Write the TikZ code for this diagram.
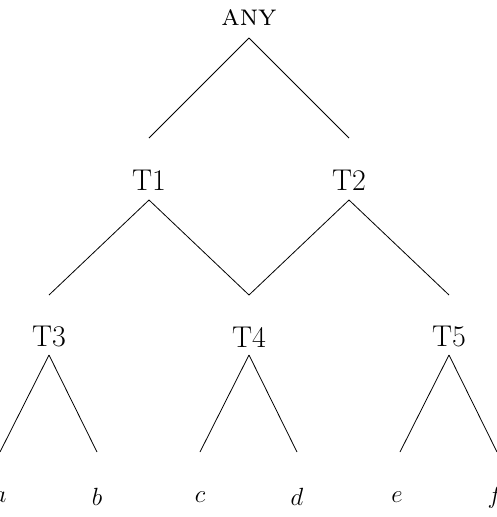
\documentclass[tikz,border=0pt]{standalone}
\usetikzlibrary{calc}
\begin{document}
\begin{tikzpicture}[x=1pt,y=-1pt,
  lbl/.style={inner sep=0pt,font=\fontsize{30}{34}\selectfont},
  edge/.style={line width=0.8pt}]
\useasboundingbox (0,0) rectangle (496,517);
\node[lbl] (any) at (249,18) {\textsc{any}};
\node[lbl] (t1) at (149,180) {T1};
\node[lbl] (t2) at (349,180) {T2};
\node[lbl] (t3) at (49,337) {T3};
\node[lbl] (t4) at (249,337) {T4};
\node[lbl] (t5) at (449,337) {T5};
\node[lbl] (a) at (0,497) {$a$};
\node[lbl] (b) at (97,497) {$b$};
\node[lbl] (c) at (200,497) {$c$};
\node[lbl] (d) at (297,497) {$d$};
\node[lbl] (e) at (397,497) {$e$};
\node[lbl] (f) at (495,497) {$f$};
\foreach \p/\c in {any/t1,any/t2,t1/t3,t1/t4,t2/t4,t2/t5}
  \draw[edge] ($(\p)+(0,20)$) -- ($(\c)+(0,-42)$);
\foreach \p/\c/\dx in {t3/a/-49,t3/b/48,t4/c/-49,t4/d/48,t5/e/-49,t5/f/48}
  \draw[edge] ($(\p)+(0,18)$) -- ($(\p)+(\dx,115)$);
\end{tikzpicture}
\end{document}
